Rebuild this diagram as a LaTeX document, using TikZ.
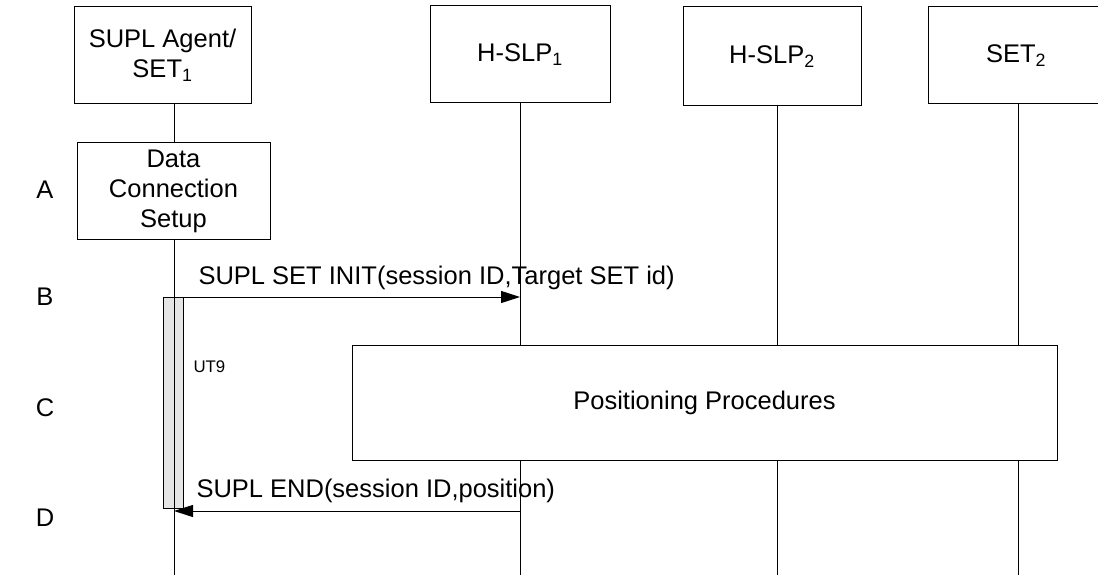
\documentclass[tikz,border=0pt]{standalone}
\usepackage{fontspec}
\setmainfont{Liberation Sans}
\usetikzlibrary{arrows.meta}
\begin{document}
\begin{tikzpicture}[x=1pt,y=-1pt,line width=1pt,
  every node/.style={font=\fontsize{25.5}{30}\selectfont},
  box/.style={draw,fill=white,inner sep=0pt,align=center},
  msg/.style={-{Triangle[length=19pt,width=12pt]}},
  lbl/.style={anchor=base west,inner sep=0pt},
  letter/.style={inner sep=0pt}]
\useasboundingbox (0,0) rectangle (1098,575);
% lifeline bottom coordinates
\coordinate (l1) at (174,575);
\coordinate (l2) at (520,575);
\coordinate (l3) at (777,575);
\coordinate (l4) at (1018,575);
% header boxes
\node[box,minimum width=177pt,minimum height=97pt] (agent) at (162.5,55) {SUPL Agent/\\SET\textsubscript{1}};
\node[box,minimum width=180pt,minimum height=97pt] (hslp1) at (520,54.5) {H-SLP\textsubscript{1}};
\node[box,minimum width=178pt,minimum height=99pt] (hslp2) at (772,56.5) {H-SLP\textsubscript{2}};
\node[box,minimum width=176pt,minimum height=97pt] (set2) at (1016,55.5) {SET\textsubscript{2}};
% lifelines
\draw (agent.south -| l1) -- (l1);
\draw (hslp1.south -| l2) -- (l2);
\draw (hslp2.south -| l3) -- (l3);
\draw (set2.south -| l4) -- (l4);
% data connection setup
\node[box,minimum width=193pt,minimum height=96pt] (data) at (173.5,191) {Data\\Connection\\Setup};
% activation bar
\node[draw,fill=black!10,inner sep=0pt,minimum width=20pt,minimum height=211pt] (bar) at (173,402.5) {};
\draw (bar.north -| l1) -- (bar.south -| l1);
% positioning procedures
\node[box,minimum width=705pt,minimum height=115pt] (pos) at (704.5,402.5) {Positioning Procedures};
% messages
\coordinate (m1s) at (183,297);
\draw[msg] (m1s) -- (m1s -| l2);
\node[lbl] (m1) at (198,284) {SUPL SET INIT(session ID,Target SET id)};
\coordinate (m2s) at (520,511);
\draw[msg] (m2s) -- (m2s -| l1);
\node[lbl] (m2) at (196,497) {SUPL END(session ID,position)};
\node[lbl,font=\fontsize{16.8}{20}\selectfont] (ut9) at (193,372) {UT9};
% row letters
\node[letter] (A) at (45,190) {A};
\node[letter] (B) at (45,297) {B};
\node[letter] (C) at (45,408) {C};
\node[letter] (D) at (45,518) {D};
\end{tikzpicture}
\end{document}
